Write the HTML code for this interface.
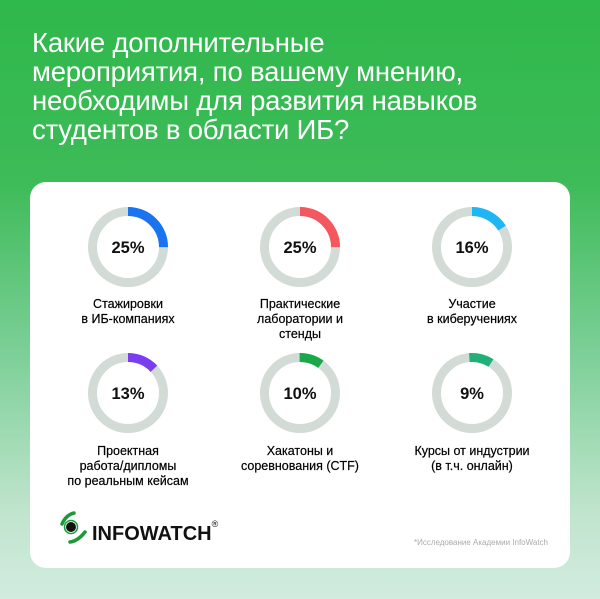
<!DOCTYPE html>
<html><head><meta charset="utf-8"><style>
body{margin:0;width:600px;height:599px;overflow:hidden;font-family:"Liberation Sans",sans-serif;
background:linear-gradient(180deg,#2fb84b 0%,#3dbb58 30%,#7fd09a 60%,#bfe4cc 85%,#d2ece0 100%);position:relative}
.t{position:absolute;left:32px;top:28px;color:#fff;font-size:27.5px;line-height:29px;letter-spacing:-0.2px}
.card{position:absolute;left:30px;top:182px;width:540px;height:386px;background:#fff;border-radius:16px}
.lab{position:absolute;width:170px;text-align:center;font-size:12.5px;line-height:15px;color:#000;-webkit-text-stroke:0.2px #000}
.pct{font-family:"Liberation Sans",sans-serif;font-weight:bold;font-size:16.5px;fill:#111}
</style></head><body>
<div class="t">Какие дополнительные<br>мероприятия, по вашему мнению,<br>необходимы для развития навыков<br>студентов в области ИБ?</div>
<div class="card"></div>
<svg width="600" height="599" style="position:absolute;left:0;top:0">
<g fill="none" stroke-width="9">
<circle cx="128" cy="247" r="35.5" stroke="#d3dbd6"/>
<circle cx="128" cy="247" r="35.5" stroke="#1a73f0" stroke-dasharray="55.8 200" transform="rotate(-90 128 247)"/>
<circle cx="300" cy="247" r="35.5" stroke="#d3dbd6"/>
<circle cx="300" cy="247" r="35.5" stroke="#f4575d" stroke-dasharray="55.8 200" transform="rotate(-90 300 247)"/>
<circle cx="472" cy="247" r="35.5" stroke="#d3dbd6"/>
<circle cx="472" cy="247" r="35.5" stroke="#1fb6f5" stroke-dasharray="35.7 200" transform="rotate(-90 472 247)"/>
<circle cx="128" cy="393" r="35.5" stroke="#d3dbd6"/>
<circle cx="128" cy="393" r="35.5" stroke="#7a3df0" stroke-dasharray="29 200" transform="rotate(-90 128 393)"/>
<circle cx="300" cy="393" r="35.5" stroke="#d3dbd6"/>
<circle cx="300" cy="393" r="35.5" stroke="#1aa84a" stroke-dasharray="22.3 200" transform="rotate(-90 300 393)"/>
<circle cx="472" cy="393" r="35.5" stroke="#d3dbd6"/>
<circle cx="472" cy="393" r="35.5" stroke="#20b07a" stroke-dasharray="20 200" transform="rotate(-90 472 393)"/>
</g>
<g class="pct" text-anchor="middle">
<text x="128" y="253" class="pct">25%</text>
<text x="300" y="253" class="pct">25%</text>
<text x="472" y="253" class="pct">16%</text>
<text x="128" y="399" class="pct">13%</text>
<text x="300" y="399" class="pct">10%</text>
<text x="472" y="399" class="pct">9%</text>
</g>
<path d="M62,524 Q66,515 74,513" stroke="#1a9a3a" stroke-width="3.5" fill="none" stroke-linecap="round"/>
<circle cx="71" cy="527" r="5" fill="#111"/><circle cx="71" cy="527" r="6.5" fill="none" stroke="#1a9a3a" stroke-width="1.5"/>
<path d="M70,542 Q78,541 85,532" stroke="#1a9a3a" stroke-width="3.5" fill="none" stroke-linecap="round"/>
</svg>
<div class="lab" style="left:43px;top:297px">Стажировки<br>в ИБ-компаниях</div>
<div class="lab" style="left:215px;top:297px">Практические<br>лаборатории и<br>стенды</div>
<div class="lab" style="left:387px;top:297px">Участие<br>в киберучениях</div>
<div class="lab" style="left:43px;top:444px">Проектная<br>работа/дипломы<br>по реальным кейсам</div>
<div class="lab" style="left:215px;top:444px">Хакатоны и<br>соревнования (CTF)</div>
<div class="lab" style="left:387px;top:444px">Курсы от индустрии<br>(в т.ч. онлайн)</div>
<div style="position:absolute;left:92px;top:523px;font-weight:bold;font-size:20px;color:#111">INFOWATCH<sup style="font-size:9px;font-weight:normal;vertical-align:top;position:relative;top:-4px">®</sup></div>
<div style="position:absolute;right:52px;top:538px;font-size:8px;color:#aaa">*Исследование Академии InfoWatch</div>
</body></html>
